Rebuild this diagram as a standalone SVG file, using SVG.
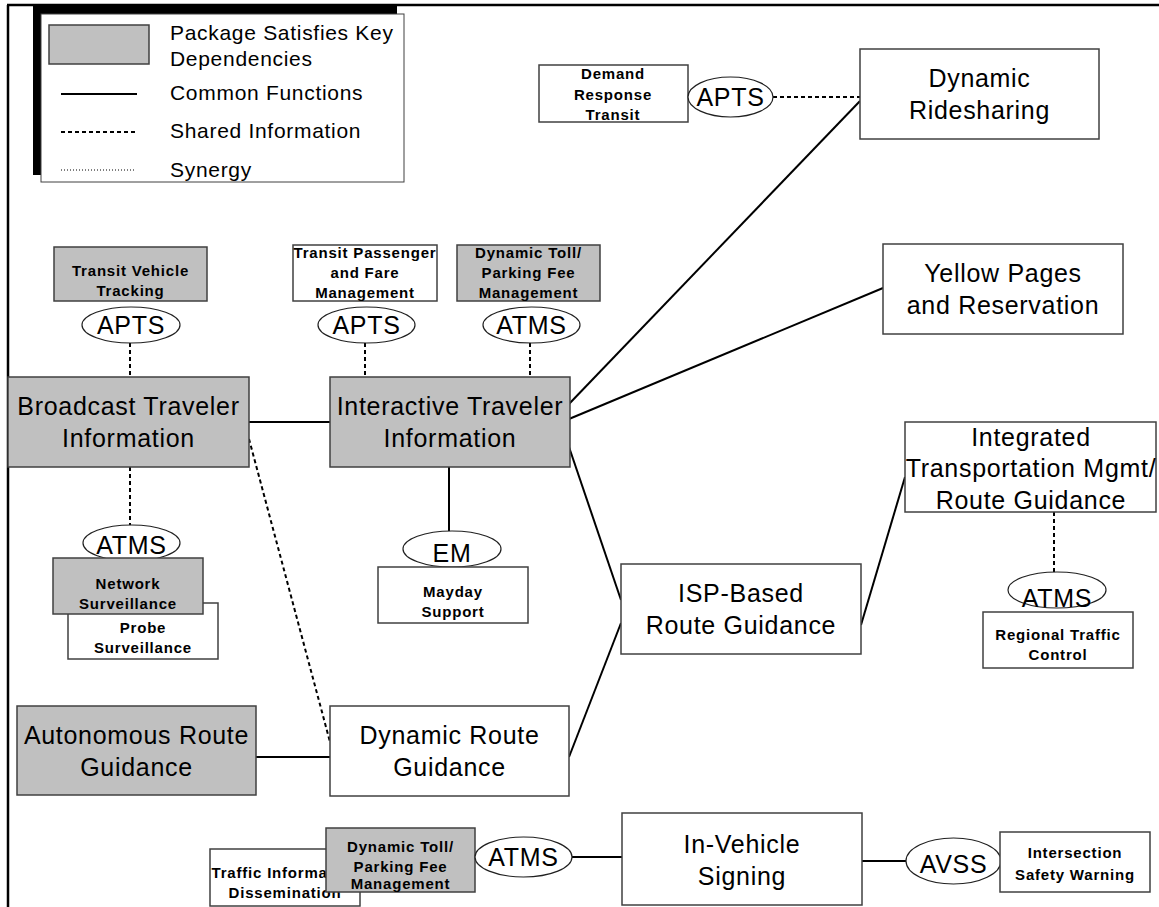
<svg xmlns="http://www.w3.org/2000/svg" width="1159" height="907" viewBox="0 0 1159 907">
<style>
.bg{fill:#ffffff}
.box{fill:#ffffff;stroke:#404040;stroke-width:1.5}
.key{fill:#c0c0c0;stroke:#404040;stroke-width:1.5}
.oval{fill:#ffffff;stroke:#202020;stroke-width:1.2}
.solid{fill:none;stroke:#000000;stroke-width:2}
.dash{fill:none;stroke:#000000;stroke-width:2;stroke-dasharray:4 3}
.dot{fill:none;stroke:#000000;stroke-width:1;stroke-dasharray:1 2}
.big{font-family:"Liberation Sans",Arial,Helvetica,sans-serif;font-size:25px;letter-spacing:0.7px;fill:#000;text-anchor:middle}
.lg{font-family:"Liberation Sans",Arial,Helvetica,sans-serif;font-size:21px;letter-spacing:0.7px;fill:#000}
.sm{font-family:"Liberation Sans",Arial,Helvetica,sans-serif;font-size:15px;font-weight:bold;letter-spacing:0.8px;fill:#000;text-anchor:middle}
</style>
<rect class="bg" x="0" y="0" width="1159" height="907"/>
<!-- frame -->
<g id="frame">
<line x1="8" y1="5" x2="8" y2="907" stroke="#000" stroke-width="2.5"/>
<line x1="7" y1="5" x2="1159" y2="5" stroke="#000" stroke-width="2.5"/>
</g>
<!-- legend -->
<g id="legend">
<rect x="33" y="5" width="364" height="170" fill="#000"/>
<rect x="41" y="14" width="363" height="168" fill="#fff" stroke="#404040" stroke-width="1"/>
<rect class="key" x="49" y="25" width="100" height="39"/>
<text class="lg" x="170" y="40">Package Satisfies Key</text>
<text class="lg" x="170" y="66">Dependencies</text>
<line class="solid" x1="61" y1="94" x2="137" y2="94"/>
<text class="lg" x="170" y="100">Common Functions</text>
<line class="dash" x1="61" y1="132" x2="137" y2="132" stroke-width="1.5" stroke-dasharray="3 2"/>
<text class="lg" x="170" y="138">Shared Information</text>
<line class="dot" x1="61" y1="170" x2="134" y2="170"/>
<text class="lg" x="170" y="177">Synergy</text>
</g>
<!-- connectors -->
<g id="connectors">
<line class="dash" x1="773" y1="97" x2="860" y2="97"/>
<line class="solid" x1="569" y1="404" x2="860" y2="101"/>
<line class="solid" x1="569" y1="419" x2="883" y2="288"/>
<line class="solid" x1="569" y1="447" x2="621" y2="600"/>
<line class="solid" x1="621" y1="623" x2="569" y2="757"/>
<line class="solid" x1="861" y1="625" x2="905" y2="477"/>
<line class="dash" x1="1054" y1="512" x2="1054" y2="572"/>
<line class="dash" x1="130" y1="343" x2="130" y2="377"/>
<line class="dash" x1="365" y1="343" x2="365" y2="377"/>
<line class="dash" x1="530" y1="343" x2="530" y2="377"/>
<line class="solid" x1="249" y1="422" x2="330" y2="422"/>
<line class="dash" x1="130" y1="467" x2="130" y2="525"/>
<line class="dash" x1="249" y1="439" x2="330" y2="742"/>
<line class="solid" x1="449" y1="467" x2="449" y2="531"/>
<line class="solid" x1="256" y1="757" x2="330" y2="757"/>
<line class="solid" x1="572" y1="857" x2="622" y2="857"/>
<line class="solid" x1="862" y1="861" x2="906" y2="861"/>
</g>
<!-- nodes -->
<g id="demand-response-transit">
<rect class="box" x="539" y="65" width="149" height="57"/>
<text class="sm" x="613" y="79">Demand</text>
<text class="sm" x="613" y="100">Response</text>
<text class="sm" x="613" y="120">Transit</text>
</g>
<g id="apts-demand">
<ellipse class="oval" cx="730.5" cy="97" rx="42.5" ry="20"/>
<text class="big" x="730.5" y="106">APTS</text>
</g>
<g id="dynamic-ridesharing">
<rect class="box" x="860" y="49" width="239" height="90"/>
<text class="big" x="979.5" y="87">Dynamic</text>
<text class="big" x="979.5" y="119">Ridesharing</text>
</g>
<g id="yellow-pages">
<rect class="box" x="883" y="244" width="240" height="90"/>
<text class="big" x="1003" y="282">Yellow Pages</text>
<text class="big" x="1003" y="314">and Reservation</text>
</g>
<g id="transit-vehicle-tracking">
<rect class="key" x="54" y="247" width="153" height="54"/>
<text class="sm" x="130.5" y="276">Transit Vehicle</text>
<text class="sm" x="130.5" y="296">Tracking</text>
</g>
<g id="apts-tvt">
<ellipse class="oval" cx="131" cy="325" rx="49" ry="18"/>
<text class="big" x="131" y="334">APTS</text>
</g>
<g id="transit-passenger">
<rect class="box" x="293" y="245" width="144" height="56"/>
<text class="sm" x="365" y="258">Transit Passenger</text>
<text class="sm" x="365" y="278">and Fare</text>
<text class="sm" x="365" y="298">Management</text>
</g>
<g id="apts-tpf">
<ellipse class="oval" cx="366.5" cy="325" rx="48.5" ry="18"/>
<text class="big" x="366.5" y="334">APTS</text>
</g>
<g id="dynamic-toll-top">
<rect class="key" x="457" y="245" width="143" height="56"/>
<text class="sm" x="528.5" y="258">Dynamic Toll/</text>
<text class="sm" x="528.5" y="278">Parking Fee</text>
<text class="sm" x="528.5" y="298">Management</text>
</g>
<g id="atms-toll-top">
<ellipse class="oval" cx="531.5" cy="325" rx="48.5" ry="18"/>
<text class="big" x="531.5" y="334">ATMS</text>
</g>
<g id="broadcast-traveler-information">
<rect class="key" x="8" y="377" width="241" height="90"/>
<text class="big" x="128.5" y="415">Broadcast Traveler</text>
<text class="big" x="128.5" y="447">Information</text>
</g>
<g id="interactive-traveler-information">
<rect class="key" x="330" y="377" width="240" height="90"/>
<text class="big" x="450" y="415">Interactive Traveler</text>
<text class="big" x="450" y="447">Information</text>
</g>
<g id="atms-network">
<ellipse class="oval" cx="131.5" cy="543" rx="48.5" ry="18"/>
<text class="big" x="131.5" y="554">ATMS</text>
</g>
<g id="probe-surveillance">
<rect class="box" x="68" y="603" width="150" height="56"/>
<text class="sm" x="143" y="633">Probe</text>
<text class="sm" x="143" y="653">Surveillance</text>
</g>
<g id="network-surveillance">
<rect class="key" x="53" y="558" width="150" height="56"/>
<text class="sm" x="128" y="589">Network</text>
<text class="sm" x="128" y="609">Surveillance</text>
</g>
<g id="em">
<ellipse class="oval" cx="452" cy="549" rx="49" ry="18"/>
<text class="big" x="452" y="562">EM</text>
</g>
<g id="mayday-support">
<rect class="box" x="378" y="567" width="150" height="56"/>
<text class="sm" x="453" y="597">Mayday</text>
<text class="sm" x="453" y="617">Support</text>
</g>
<g id="isp-based-route-guidance">
<rect class="box" x="621" y="564" width="240" height="90"/>
<text class="big" x="741" y="602">ISP-Based</text>
<text class="big" x="741" y="634">Route Guidance</text>
</g>
<g id="integrated-transportation">
<rect class="box" x="905" y="422" width="251" height="90"/>
<text class="big" x="1031" y="446">Integrated</text>
<text class="big" x="1031" y="477">Transportation Mgmt/</text>
<text class="big" x="1031" y="509">Route Guidance</text>
</g>
<g id="atms-regional">
<ellipse class="oval" cx="1057" cy="590" rx="49" ry="18"/>
</g>
<g id="regional-traffic-control">
<rect class="box" x="983" y="612" width="150" height="56"/>
<text class="sm" x="1058" y="640">Regional Traffic</text>
<text class="sm" x="1058" y="660">Control</text>
</g>
<text class="big" x="1057" y="607">ATMS</text>
<g id="autonomous-route-guidance">
<rect class="key" x="17" y="706" width="239" height="89"/>
<text class="big" x="136.5" y="744">Autonomous Route</text>
<text class="big" x="136.5" y="776">Guidance</text>
</g>
<g id="dynamic-route-guidance">
<rect class="box" x="330" y="706" width="239" height="90"/>
<text class="big" x="449.5" y="744">Dynamic Route</text>
<text class="big" x="449.5" y="776">Guidance</text>
</g>
<g id="traffic-information-dissemination">
<rect class="box" x="210" y="849" width="150" height="57"/>
<text class="sm" x="285" y="878">Traffic Information</text>
<text class="sm" x="285" y="898">Dissemination</text>
</g>
<g id="dynamic-toll-bottom">
<rect class="key" x="326" y="828" width="149" height="64"/>
<text class="sm" x="400.5" y="852">Dynamic Toll/</text>
<text class="sm" x="400.5" y="872">Parking Fee</text>
<text class="sm" x="400.5" y="889">Management</text>
</g>
<g id="atms-bottom">
<ellipse class="oval" cx="523.5" cy="857" rx="48.5" ry="20"/>
<text class="big" x="523.5" y="866">ATMS</text>
</g>
<g id="in-vehicle-signing">
<rect class="box" x="622" y="813" width="240" height="92"/>
<text class="big" x="742" y="853">In-Vehicle</text>
<text class="big" x="742" y="885">Signing</text>
</g>
<g id="avss">
<ellipse class="oval" cx="953.5" cy="861" rx="47.5" ry="23"/>
<text class="big" x="953.5" y="873">AVSS</text>
</g>
<g id="intersection-safety-warning">
<rect class="box" x="1000" y="832" width="150" height="60"/>
<text class="sm" x="1075" y="858">Intersection</text>
<text class="sm" x="1075" y="880">Safety Warning</text>
</g>
</svg>
